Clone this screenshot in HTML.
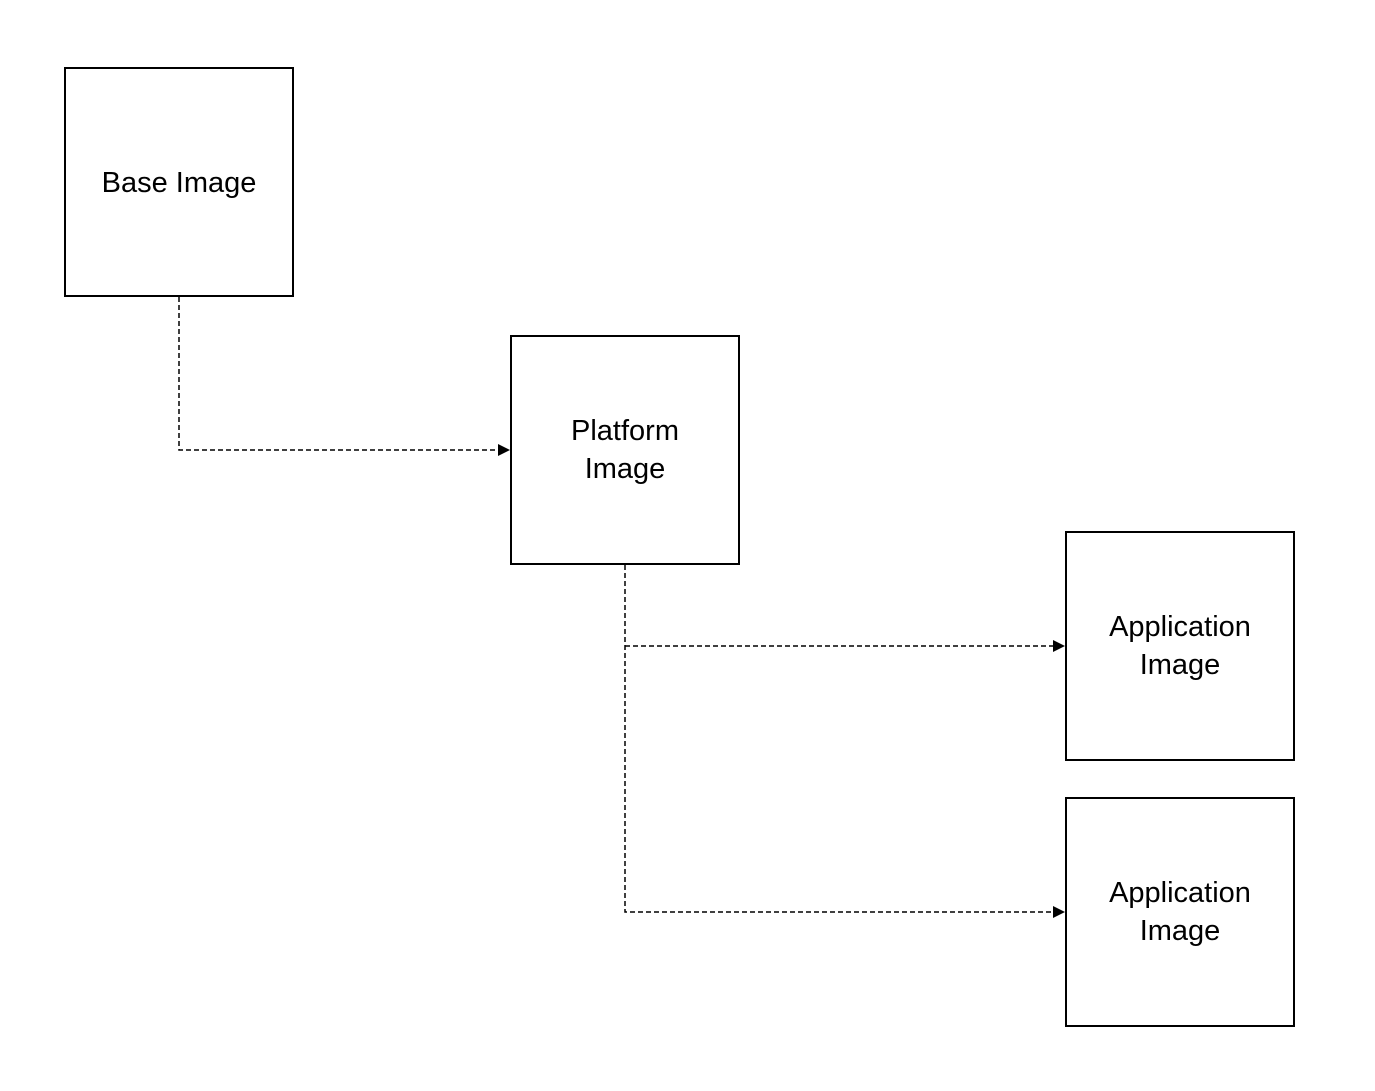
<!DOCTYPE html>
<html><head><style>
body{margin:0;background:#fff;}
.t{font-family:"Liberation Sans",sans-serif;font-size:29px;fill:#000;text-anchor:middle;}
</style></head><body>
<svg width="1375" height="1086" xmlns="http://www.w3.org/2000/svg">
<g fill="none" stroke="#000" stroke-width="2">
<rect x="65" y="68" width="228" height="228"/>
<rect x="511" y="336" width="228" height="228"/>
<rect x="1066" y="532" width="228" height="228"/>
<rect x="1066" y="798" width="228" height="228"/>
</g>
<g fill="none" stroke="#000" stroke-width="1.5" stroke-dasharray="5,3">
<path d="M179 297 V450 H498"/>
<path d="M625 565 V912 H1053"/>
<path d="M625 646 H1053"/>
</g>
<g fill="#000">
<polygon points="510,450 498,444 498,456"/>
<polygon points="1065,646 1053,640 1053,652"/>
<polygon points="1065,912 1053,906 1053,918"/>
</g>
<text class="t" x="179" y="192">Base Image</text>
<text class="t" x="625" y="440">Platform</text>
<text class="t" x="625" y="478">Image</text>
<text class="t" x="1180" y="636">Application</text>
<text class="t" x="1180" y="674">Image</text>
<text class="t" x="1180" y="902">Application</text>
<text class="t" x="1180" y="940">Image</text>
</svg>
</body></html>
